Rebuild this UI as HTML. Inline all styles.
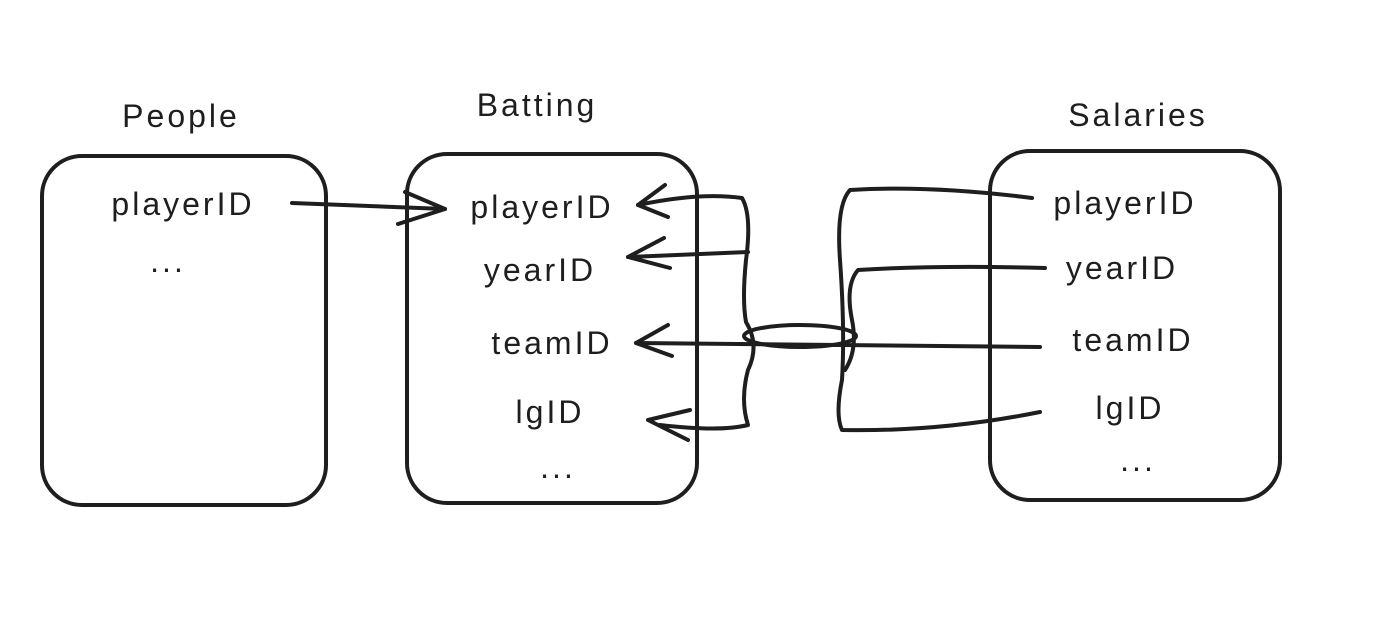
<!DOCTYPE html>
<html><head><meta charset="utf-8"><style>
html,body{margin:0;padding:0;background:#fff;}
svg{display:block;}
text{font-family:"Liberation Sans",sans-serif;font-size:32px;letter-spacing:3px;fill:#1e1e1e;}
</style></head><body>
<svg width="1384" height="641" viewBox="0 0 1384 641" xmlns="http://www.w3.org/2000/svg">
<g fill="none" stroke="#1e1e1e" stroke-width="4" stroke-linecap="round" stroke-linejoin="round">
<rect x="42" y="156" width="284" height="349" rx="40"/>
<rect x="407" y="154" width="290" height="349" rx="40"/>
<rect x="990" y="151" width="290" height="349" rx="40"/>
<path d="M292 203 L445 209"/>
<path d="M405 192 L445 209 L398 224"/>
<path d="M638 205 Q700 192 742 198 Q752 215 746 260 Q742 300 746 322 Q760 345 748 370 Q740 400 748 425 Q720 432 660 425"/>
<path d="M665 185 L638 205 L668 217"/>
<path d="M628 257 L748 252"/>
<path d="M664 238 L628 257 L670 268"/>
<path d="M690 410 L648 420 L688 440"/>
<path d="M636 343 L1040 347"/>
<path d="M668 325 L636 343 L672 356"/>
<ellipse cx="800" cy="336" rx="56" ry="11"/>
<path d="M1032 198 Q930 185 850 190 Q836 205 840 260 Q845 330 842 380 Q835 415 842 430 Q940 432 1040 412"/>
<path d="M1045 268 Q940 265 858 270 Q845 285 852 320 Q858 350 845 370"/>
</g>
<g>
<text x="181" y="127" text-anchor="middle">People</text>
<text x="537" y="116" text-anchor="middle">Batting</text>
<text x="1138" y="126" text-anchor="middle">Salaries</text>
<text x="183" y="215" text-anchor="middle">playerID</text>
<text x="168" y="272" text-anchor="middle">...</text>
<text x="542" y="218" text-anchor="middle">playerID</text>
<text x="540" y="281" text-anchor="middle">yearID</text>
<text x="552" y="354" text-anchor="middle">teamID</text>
<text x="550" y="423" text-anchor="middle">lgID</text>
<text x="558" y="478" text-anchor="middle">...</text>
<text x="1125" y="214" text-anchor="middle">playerID</text>
<text x="1122" y="279" text-anchor="middle">yearID</text>
<text x="1133" y="351" text-anchor="middle">teamID</text>
<text x="1130" y="419" text-anchor="middle">lgID</text>
<text x="1138" y="471" text-anchor="middle">...</text>
</g>
</svg>
</body></html>
